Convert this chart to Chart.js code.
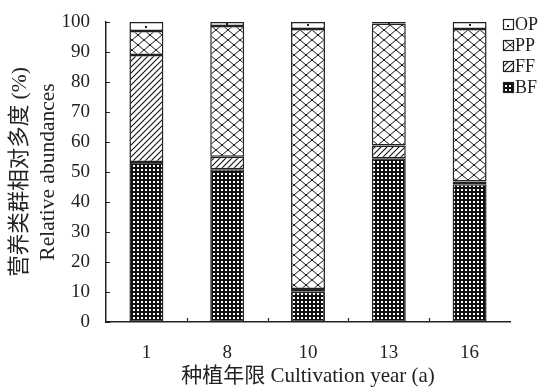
<!DOCTYPE html>
<html>
<head>
<meta charset="utf-8">
<script src="https://cdn.jsdelivr.net/npm/chart.js@4.4.1/dist/chart.umd.min.js"></script>
<style>
  html, body { margin: 0; padding: 0; background: #fff; }
  #wrap { width: 552px; height: 390px; }
</style>
</head>
<body>
<div id="wrap"><canvas id="chart"></canvas></div>
<script>
// cultivation years and relative abundances (%) of each trophic group
const years = ['1', '8', '10', '13', '16'];
const bfValues = [53.3, 50.9, 10.1, 54.6, 45.9];
const ffValues = [35.7, 4.2, 0.9, 4.2, 0.9];
const ppValues = [8.0, 43.6, 86.7, 40.7, 50.9];
const opValues = [3.0, 1.3, 2.3, 0.5, 2.3];
const yTickValues = [0, 10, 20, 30, 40, 50, 60, 70, 80, 90, 100];

const FONT = '"Liberation Serif", "Times New Roman", "Noto Sans CJK SC", serif';
const INK = '#222';

function makePattern(w, h, draw) {
  const c = document.createElement('canvas');
  c.width = w; c.height = h;
  const g = c.getContext('2d');
  g.fillStyle = '#fff';
  g.fillRect(0, 0, w, h);
  draw(g);
  return g.createPattern(c, 'repeat');
}

// BF: dense black with small white dots
const bfPattern = makePattern(4, 4, g => {
  g.fillStyle = '#111';
  g.fillRect(0, 0, 4, 4);
  g.fillStyle = '#fff';
  g.fillRect(1, 1, 2, 2);
});
// FF: diagonal hatch
const ffPattern = makePattern(6, 6, g => {
  g.strokeStyle = '#111';
  g.lineWidth = 1.1;
  g.beginPath();
  g.moveTo(-1, 7); g.lineTo(7, -1);
  g.moveTo(-1, 1); g.lineTo(1, -1);
  g.moveTo(5, 7); g.lineTo(7, 5);
  g.stroke();
});
// PP: diamond cross hatch
const ppPattern = makePattern(12, 10, g => {
  g.strokeStyle = '#111';
  g.lineWidth = 1;
  g.beginPath();
  g.moveTo(0, 0); g.lineTo(12, 10);
  g.moveTo(0, 10); g.lineTo(12, 0);
  g.stroke();
});
// OP: plain white, a dot is added in the middle of each segment
const opFill = '#fff';

const legendItems = [
  { label: 'OP', fill: opFill, dot: true },
  { label: 'PP', fill: ppPattern },
  { label: 'FF', fill: ffPattern },
  { label: 'BF', fill: bfPattern }
];

const decorPlugin = {
  id: 'decor',
  afterDraw(chart) {
    const { ctx, scales: { x, y } } = chart;
    ctx.save();
    ctx.strokeStyle = INK;
    ctx.lineWidth = 1.2;
    ctx.beginPath();
    // inward y ticks
    yTickValues.forEach(v => {
      const py = Math.round(y.getPixelForValue(v)) + 0.5;
      ctx.moveTo(x.left, py);
      ctx.lineTo(x.left + 4, py);
    });
    // inward x ticks between categories
    for (let i = 0; i < years.length - 1; i++) {
      const px = Math.round((x.getPixelForValue(i) + x.getPixelForValue(i + 1)) / 2) + 0.5;
      ctx.moveTo(px, y.bottom);
      ctx.lineTo(px, y.bottom - 4);
    }
    ctx.stroke();

    // dots inside OP segments
    ctx.fillStyle = INK;
    chart.getDatasetMeta(3).data.forEach(bar => {
      const cy = (bar.y + bar.base) / 2;
      ctx.fillRect(Math.round(bar.x) - 1, Math.round(cy) - 1, 2, 2);
    });

    // legend
    ctx.font = '18px ' + FONT;
    ctx.textBaseline = 'middle';
    legendItems.forEach((item, i) => {
      const cy = 24 + i * 21;
      ctx.fillStyle = item.fill;
      ctx.fillRect(503, cy - 5, 10, 10);
      ctx.lineWidth = 1.2;
      ctx.strokeRect(503.5, cy - 4.5, 10, 10);
      ctx.fillStyle = INK;
      if (item.dot) ctx.fillRect(507, cy + 1, 2, 2);
      ctx.fillText(item.label, 515, cy + 1);
    });
    ctx.restore();
  }
};

function barSet(label, data, fill) {
  return {
    label,
    data,
    backgroundColor: fill,
    borderColor: INK,
    borderWidth: 1.5,
    borderSkipped: false,
    barPercentage: 0.42,
    categoryPercentage: 1.0
  };
}

new Chart(document.getElementById('chart'), {
  type: 'bar',
  data: {
    labels: years,
    datasets: [
      barSet('BF', bfValues, bfPattern),
      barSet('FF', ffValues, ffPattern),
      barSet('PP', ppValues, ppPattern),
      barSet('OP', opValues, opFill)
    ]
  },
  options: {
    responsive: true,
    maintainAspectRatio: false,
    animation: false,
    layout: { padding: { top: 22, right: 42, left: 0, bottom: 0 } },
    plugins: {
      legend: { display: false },
      tooltip: { enabled: false }
    },
    scales: {
      x: {
        stacked: true,
        offset: true,
        // grid hidden; tickLength only spaces the labels away from the axis
        grid: { display: false, drawTicks: true, tickLength: 20 },
        border: { display: true, color: INK, width: 1.5 },
        ticks: { color: INK, padding: 0, font: { family: FONT, size: 19 } },
        title: {
          display: true,
          text: '种植年限 Cultivation year (a)',
          color: INK,
          font: { family: FONT, size: 21 },
          padding: { top: 0, bottom: 1 }
        },
        afterFit(scale) { scale.height = 68; }
      },
      y: {
        stacked: true,
        min: 0,
        max: 100,
        afterBuildTicks(scale) { scale.ticks = yTickValues.map(v => ({ value: v })); },
        grid: { display: false, drawTicks: true, tickLength: 16 },
        border: { display: true, color: INK, width: 1.5 },
        ticks: { color: INK, padding: 0, font: { family: FONT, size: 19 } },
        title: {
          display: true,
          text: ['营养类群相对多度 (%)', 'Relative abundances'],
          color: INK,
          font: { family: FONT, size: 21.5, lineHeight: 1.3 },
          padding: { top: 6, bottom: 0 }
        },
        afterFit(scale) { scale.width = 106; }
      }
    }
  },
  plugins: [decorPlugin]
});
</script>
</body>
</html>
